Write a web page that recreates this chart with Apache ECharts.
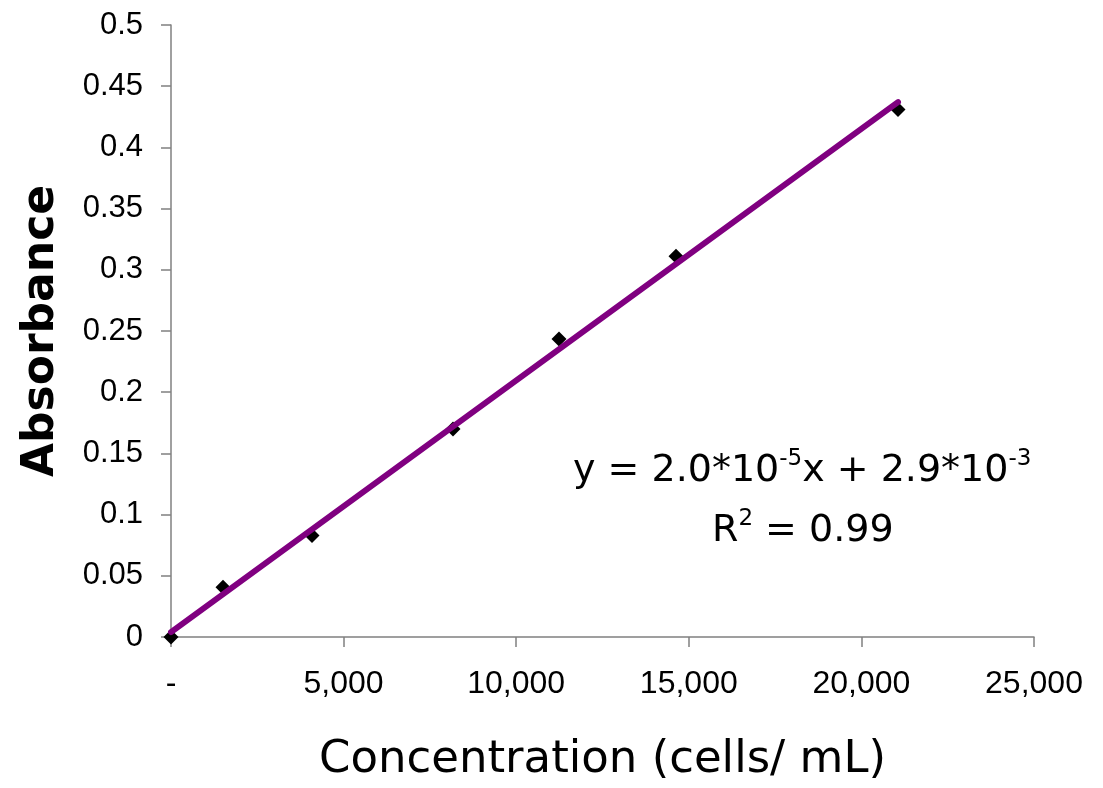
<!DOCTYPE html>
<html>
<head>
<meta charset="utf-8">
<script src="https://cdn.jsdelivr.net/npm/echarts@6/dist/echarts.min.js"></script>
<style>html,body{margin:0;padding:0;background:#fff}#c{width:1103px;height:788px}</style>
</head>
<body>
<div id="c"></div>
<script>
// Measured data (concentration in cells/mL, absorbance)
const concentration = [0, 1506, 4085, 8169, 11240, 14629, 21060];
const absorbance = [0, 0.0407, 0.083, 0.170, 0.2435, 0.311, 0.431];
// Trendline endpoints
const trendX = [0, 21060];
const trendY = [0.004, 0.437];
const xTicks = [0, 5000, 10000, 15000, 20000, 25000];
const yTicks = [0, 0.05, 0.1, 0.15, 0.2, 0.25, 0.3, 0.35, 0.4, 0.45, 0.5];

const points = concentration.map((c, i) => [c, absorbance[i]]);
const trend = trendX.map((c, i) => [c, trendY[i]]);

const chart = echarts.init(document.getElementById('c'), null, {renderer: 'canvas'});
const eqRich = {
  a: {fontFamily: 'DejaVu Sans', fontSize: 38, fill: '#000', lineHeight: 50, verticalAlign: 'bottom'},
  s: {fontFamily: 'DejaVu Sans', fontSize: 23, fill: '#000', lineHeight: 50, verticalAlign: 'top', padding: [8, 0, 0, 0]}
};
chart.setOption({
  animation: false,
  backgroundColor: '#fff',
  grid: {left: 171, right: 69, top: 25, bottom: 149, containLabel: false},
  xAxis: {
    type: 'value', min: xTicks[0], max: xTicks[xTicks.length - 1], interval: 5000,
    axisLine: {show: true, lineStyle: {color: '#808080', width: 1.5}},
    axisTick: {show: true, inside: false, length: 10, lineStyle: {color: '#808080', width: 1.5}},
    splitLine: {show: false},
    axisLabel: {
      color: '#000', fontFamily: 'Liberation Sans', fontSize: 32, margin: 31,
      formatter: v => v === 0 ? '-' : v.toLocaleString('en-US')
    },
    name: 'Concentration (cells/ mL)', nameLocation: 'middle', nameGap: 101,
    nameTextStyle: {color: '#000', fontFamily: 'DejaVu Sans', fontSize: 45}
  },
  yAxis: {
    type: 'value', min: yTicks[0], max: yTicks[yTicks.length - 1], interval: 0.05,
    axisLine: {show: true, lineStyle: {color: '#808080', width: 1.5}},
    axisTick: {show: true, inside: false, length: 10, lineStyle: {color: '#808080', width: 1.5}},
    splitLine: {show: false},
    axisLabel: {
      color: '#000', fontFamily: 'Liberation Sans', fontSize: 31, margin: 28,
      formatter: v => String(Math.round(v * 100) / 100)
    },
    name: 'Absorbance', nameLocation: 'middle', nameGap: 107,
    nameTextStyle: {color: '#000', fontFamily: 'DejaVu Sans', fontWeight: 'bold', fontSize: 44}
  },
  series: [
    {
      type: 'scatter', data: points, symbol: 'diamond', symbolSize: 15,
      itemStyle: {color: '#000', opacity: 1}, z: 2
    },
    {
      type: 'line', data: trend, showSymbol: false, symbol: 'none',
      lineStyle: {color: '#800080', width: 6, cap: 'round'}, z: 3
    }
  ],
  graphic: [{
    type: 'text', left: 573, top: 440, z: 10,
    style: {text: '{a|y = 2.0*10}{s|-5}{a|x + 2.9*10}{s|-3}', rich: eqRich}
  }, {
    type: 'text', left: 712, top: 500, z: 10,
    style: {text: '{a|R}{s|2}{a| = 0.99}', rich: eqRich}
  }]
});
</script>
</body>
</html>
